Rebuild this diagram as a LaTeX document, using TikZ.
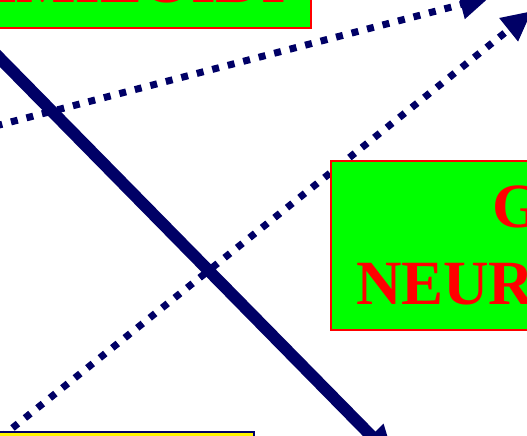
\documentclass[tikz,border=0pt]{standalone}
\usepackage{fontspec}
\setmainfont{Liberation Serif}
\usetikzlibrary{arrows.meta,positioning}
\definecolor{navy}{RGB}{0,0,102}
\definecolor{leaf}{RGB}{0,255,0}
\pgfdeclarelayer{back}
\pgfsetlayers{back,main}

\begin{document}
\begin{tikzpicture}[x=1pt, y=-1pt,
    gbox/.style={draw=red, fill=leaf, line width=2pt, inner sep=25pt, text=red,
      font=\fontsize{63}{77}\selectfont\bfseries, align=center},
    ybox/.style={draw=navy, fill=yellow, line width=2pt},
    link/.style={navy, line width=12pt, -{Triangle[length=34pt, width=32pt]}},
    hint/.style={navy, line width=7pt, dash pattern=on 7pt off 9pt,
      -{Triangle[length=30pt, width=28pt]}},
  ]
  \useasboundingbox (0,0) rectangle (527,436);
  \clip (0,0) rectangle (527,436);

  % Boxes
  \node[gbox, anchor=south east] (plaques) at (312,29) {PLACCHE\\AMILOIDI};
  \node[gbox, anchor=north west] (tangles) at (330,160)
    {GROVIGLI\\NEUROFIBRILLARI};
  \node[ybox, anchor=north east, minimum width=300pt, minimum height=60pt]
    (cause) at (255,431) {};

  % Free ends
  \coordinate (a0) at (-29,29);
  \coordinate (a1) at (395,460);
  \coordinate (b0) at (-20,130);
  \coordinate (b1) at (490,-3);
  \coordinate (c0) at (0,438);
  \coordinate (c1) at (532,11);

  % Connectors behind the boxes
  \begin{pgfonlayer}{back}
    \draw[link] (a0) -- (a1);
    \draw[hint] (b0) -- (b1);
    \draw[hint] (c0) -- (c1);
  \end{pgfonlayer}
\end{tikzpicture}
\end{document}
